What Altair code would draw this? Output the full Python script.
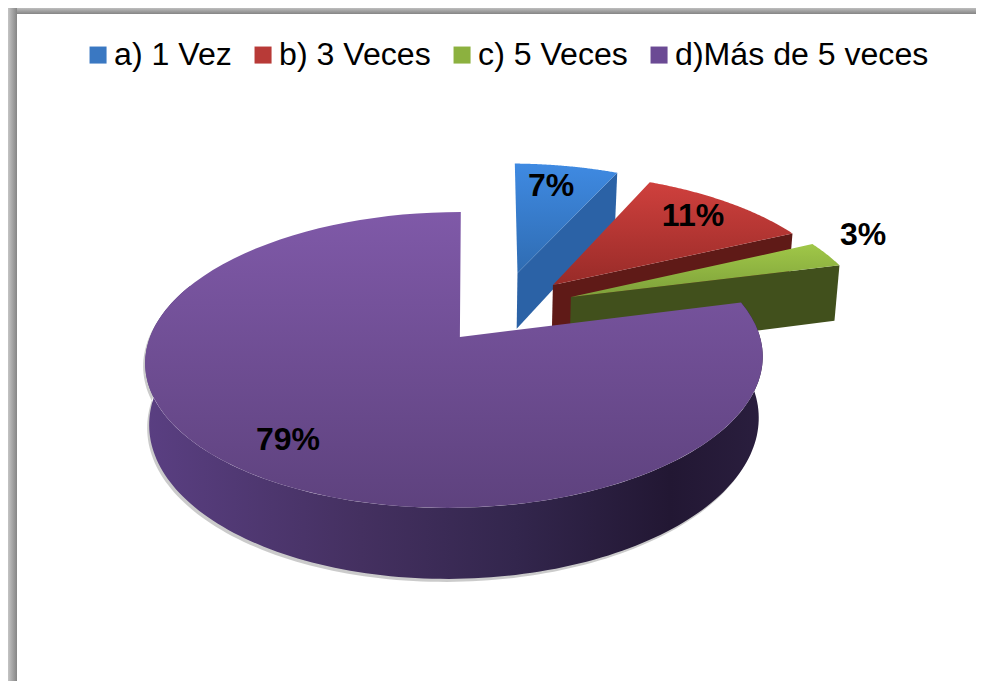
import math
import altair as alt
import pandas as pd

CATEGORIES = ["a) 1 Vez", "b) 3 Veces", "c) 5 Veces", "d)Más de 5 veces"]
PERCENTS = [7, 11, 3, 79]
LEGEND_COLORS = ["#3a78c2", "#b83a37", "#8cb13f", "#6b4a94"]
LABEL_X = [551, 693, 863, 288]
LABEL_Y = [186, 216, 235, 440]

# view of the 3-D pie (picture px)
W, H = 968, 673
CX, CY, RX, RY, K = 455, 337, 305, 144.4, 0.155
DEPTH, TAPER = 60, 0.987
EXPLODE = [(0.22, 0.476), (0.34, 0.381), (0.397, 0.289), (0.0, 0.0)]
APEX_SHIFT = [0, 0, 0, 0.016]
LEAN = [0, 0, 0, 0.022]
START_TRIM = [1.2, 0, 0, 0]
TOP_FILL = [("#3f8ae2", "#2f6cb2"), ("#cf403d", "#982b28"), ("#a0c748", "#7da03a"), ("#7f59a8", "#5e427e")]
WALL_FILL = ["#2b62a6", "#5f1a17", "#41501c"]


def proj(X, Z, down=False):
    w = 1 + K * Z
    x, y = RX * X / w, -RY * Z / w
    if down:
        return CX + x * TAPER, CY + y + DEPTH / w
    return CX + x, CY + y


def grad(c0, c1, horizontal=False):
    stops = [{"color": c, "offset": i / (len((c0, c1)) - 1)} for i, c in enumerate((c0, c1))]
    return {"gradient": "linear", "x1": 0, "y1": 0, "x2": 1 if horizontal else 0, "y2": 0 if horizontal else 1, "stops": stops}


xs = alt.Scale(domain=[8, 8 + W], nice=False, zero=False)
ys = alt.Scale(domain=[8 + H, 8], nice=False, zero=False)
X_ENC = alt.X("x:Q", scale=xs, axis=None)
Y_ENC = alt.Y("y:Q", scale=ys, axis=None)


def poly(points, fill, **kw):
    df = pd.DataFrame({"x": [p[0] for p in points], "y": [p[1] for p in points], "i": range(len(points))})
    return alt.Chart(df).mark_line(fill=fill, interpolate="linear-closed", stroke=kw.pop("stroke", "transparent"), strokeWidth=kw.pop("strokeWidth", 0), **kw).encode(x=X_ENC, y=Y_ENC, order="i:Q")


layers = []
# frame
frame_top = pd.DataFrame({"x": [8], "x2": [8 + W], "y": [8], "y2": [14]})
frame_left = pd.DataFrame({"x": [8], "x2": [17], "y": [8], "y2": [8 + H]})
layers.append(alt.Chart(frame_top).mark_rect(fill=grad("#bdbdbd", "#858585")).encode(x=X_ENC, x2="x2:Q", y=Y_ENC, y2="y2:Q"))
layers.append(alt.Chart(frame_left).mark_rect(fill=grad("#c4c4c4", "#858585", True)).encode(x=X_ENC, x2="x2:Q", y=Y_ENC, y2="y2:Q"))

start = 0.0
slices = []
for pct in PERCENTS:
    end = start + pct * 3.6
    slices.append((start, end))
    start = end


def arc(i, a0, a1, down=False, n=90):
    ex, ez = EXPLODE[i]
    out = []
    for k in range(n + 1):
        t = math.radians(a0 + (a1 - a0) * k / n)
        out.append(proj(ex + math.sin(t) + LEAN[i] * math.cos(t), ez + math.cos(t), down))
    return out


for i, (a0, a1) in enumerate(slices):
    ex, ez = EXPLODE[i]
    apex, apex_d = proj(ex + APEX_SHIFT[i], ez), proj(ex + APEX_SHIFT[i], ez, True)
    if i < 3:
        t = math.radians(a1)
        outer, outer_d = proj(ex + math.sin(t), ez + math.cos(t)), proj(ex + math.sin(t), ez + math.cos(t), True)
        layers.append(poly([apex, outer, outer_d, apex_d], WALL_FILL[i]))
    else:
        top = arc(i, a0, 292, n=160)
        bot = arc(i, a0, 292, True, n=160)
        shadow = [(x - 2, y + 3) for x, y in top + bot[::-1]]
        layers.append(poly(shadow, "#b5b5b5", opacity=0.7))
        wall_fill = {
            "gradient": "linear", "x1": 0, "y1": 0, "x2": 1, "y2": 0,
            "stops": [
                {"color": "#5a3f82", "offset": 0},
                {"color": "#443060", "offset": 0.35},
                {"color": "#33264d", "offset": 0.6},
                {"color": "#221733", "offset": 0.85},
                {"color": "#2a1e3e", "offset": 1},
            ],
        }
        layers.append(poly(top + bot[::-1], wall_fill))
    layers.append(poly([apex] + arc(i, a0 + START_TRIM[i], a1), grad(*TOP_FILL[i])))

# legend and labels
legend_df = pd.DataFrame({"cat": CATEGORIES, "x": [100] * 4, "y": [100] * 4})
layers.append(
    alt.Chart(legend_df).mark_square(size=0, opacity=0).encode(
        x=X_ENC, y=Y_ENC,
        color=alt.Color("cat:N", scale=alt.Scale(domain=CATEGORIES, range=LEGEND_COLORS), legend=alt.Legend(
            title=None, orient="none", legendX=74, legendY=31, columns=4, gridAlign="none", columnPadding=15,
            symbolType="square", symbolSize=290, symbolOpacity=1, symbolStrokeWidth=0, labelFontSize=32.1,
            labelFont="Liberation Sans", labelColor="#000000", labelOffset=0, labelLimit=400,
        )),
    )
)
label_df = pd.DataFrame({"t": [f"{p}%" for p in PERCENTS], "x": LABEL_X, "y": LABEL_Y})
layers.append(
    alt.Chart(label_df).mark_text(font="Liberation Sans", fontWeight="bold", fontSize=32, color="#000000", align="center", baseline="middle").encode(x=X_ENC, y=Y_ENC, text="t:N")
)

chart = alt.layer(*layers).properties(width=W, height=H, padding=0, background="white").configure_view(stroke=None)
chart.save("out.html", embed_options={"renderer": "svg", "actions": False})
